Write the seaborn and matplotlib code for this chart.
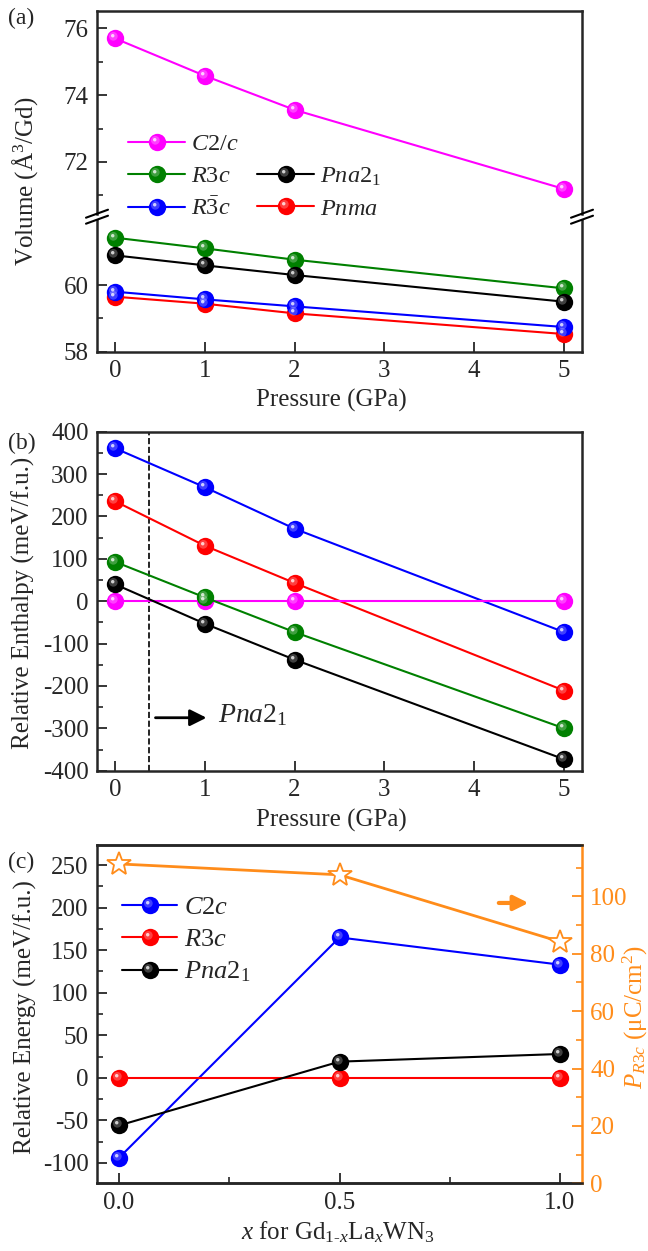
import numpy as np
import matplotlib
matplotlib.use('Agg')
import matplotlib.pyplot as plt
import seaborn as sns
from matplotlib.path import Path
from matplotlib.lines import Line2D
from matplotlib.legend_handler import HandlerTuple
from matplotlib.ticker import MultipleLocator, FixedLocator

# (a) volume per Gd vs pressure
pressure = [0, 1, 2, 5]
vol_c2c = [75.70, 74.58, 73.56, 71.19]
vol_r3c = [61.42, 61.10, 60.76, 59.90]
vol_pna21 = [60.89, 60.59, 60.30, 59.50]
vol_r3barc = [59.80, 59.57, 59.36, 58.74]
vol_pnma = [59.65, 59.44, 59.15, 58.53]

# (b) relative enthalpy vs pressure
h_c2c = [0, 0, 0, 0]
h_r3c = [93, 9, -73, -300]
h_pna21 = [40, -53, -138, -373]
h_r3barc = [361, 269, 171, -73]
h_pnma = [236, 131, 43, -211]

# (c) relative energy and polarization vs La content
x_la = [0.0, 0.5, 1.0]
e_c2c = [-94, 165, 133]
e_r3c = [0, 0, 0]
e_pna21 = [-56, 19, 28]
p_r3c = [111.3, 107.5, 84.2]

MAG, GRN, BLK, BLU, RED = '#ff00ff', '#008000', '#000000', '#0000ff', '#ff0000'
ORG = '#ff8c1a'

sns.set_style('ticks')
plt.rcParams['font.family'] = ['Liberation Serif', 'DejaVu Serif']
plt.rcParams['mathtext.fontset'] = 'custom'
plt.rcParams['mathtext.rm'] = 'Liberation Serif'
plt.rcParams['mathtext.it'] = 'Liberation Serif:italic'
plt.rcParams['mathtext.bf'] = 'Liberation Serif:bold'
plt.rcParams['font.size'] = 18
plt.rcParams['axes.linewidth'] = 1.8
plt.rcParams['axes.unicode_minus'] = False
plt.rcParams['xtick.direction'] = 'in'
plt.rcParams['ytick.direction'] = 'in'

W, H = 648, 1251
fig = plt.figure(figsize=(W / 100, H / 100), dpi=100)


def box(left, top, right, bottom):
    return [left / W, 1 - bottom / H, (right - left) / W, (bottom - top) / H]


# shine on the ball markers: a soft glow and a small bright spot
GLOW = Path.circle(center=(-0.25, 0.25), radius=0.5)
SPOT = Path.circle(center=(-0.32, 0.32), radius=0.2)
GLOW_S = np.abs(GLOW.vertices).max()
SPOT_S = np.abs(SPOT.vertices).max()
MS = 12.5


def balls(ax, x, y, color, z=3):
    sns.lineplot(x=x, y=y, ax=ax, color=color, lw=1.5, marker='o',
                 markersize=MS, markeredgewidth=0, zorder=z, legend=False)
    ax.plot(x, y, ls='none', marker=GLOW, markersize=MS * GLOW_S, color='white',
            alpha=0.25, markeredgewidth=0, zorder=z + 0.1)
    ax.plot(x, y, ls='none', marker=SPOT, markersize=MS * SPOT_S, color='white',
            alpha=0.75, markeredgewidth=0, zorder=z + 0.2)


def ball_handle(color):
    h1 = Line2D([], [], color=color, lw=1.5, marker='o', markersize=MS, markeredgewidth=0)
    h2 = Line2D([], [], ls='none', marker=GLOW, markersize=MS * GLOW_S, color='white',
                alpha=0.25, markeredgewidth=0)
    h3 = Line2D([], [], ls='none', marker=SPOT, markersize=MS * SPOT_S, color='white',
                alpha=0.75, markeredgewidth=0)
    return (h1, h2, h3)


def style(ax):
    ax.tick_params(which='major', length=7, width=1.3, pad=6, labelsize=18)
    ax.tick_params(which='minor', length=4.5, width=1.2)
    ax.tick_params(top=False, right=False, which='both')


# ---------- (a) ----------
ax_top = fig.add_axes(box(97, 11, 582, 213.7))
ax_bot = fig.add_axes(box(97, 219.7, 582, 351.7))

balls(ax_top, pressure, vol_c2c, MAG)
balls(ax_bot, pressure, vol_r3c, GRN)
balls(ax_bot, pressure, vol_pna21, BLK)
balls(ax_bot, pressure, vol_pnma, RED)
balls(ax_bot, pressure, vol_r3barc, BLU)

for ax in (ax_top, ax_bot):
    ax.set_xlim(-0.2, 5.2)
    ax.set_xticks([0, 1, 2, 3, 4, 5])
    ax.set_xlabel('')
    ax.set_ylabel('')
    style(ax)
ax_top.set_ylim(70.45, 76.52)
ax_top.set_yticks([72, 74, 76])
ax_top.yaxis.set_minor_locator(FixedLocator([71, 73, 75]))
ax_top.spines['bottom'].set_visible(False)
ax_top.tick_params(bottom=False, labelbottom=False)
ax_bot.set_ylim(58, 61.96)
ax_bot.set_yticks([58, 60])
ax_bot.yaxis.set_minor_locator(FixedLocator([59]))
ax_bot.spines['top'].set_visible(False)

# axis break marks
for xb in (97, 582):
    for yb in (213.7, 219.7):
        fig.add_artist(Line2D([(xb - 11) / W, (xb + 11) / W], [1 - (yb + 4) / H, 1 - (yb - 4) / H],
                              color='k', lw=1.5, transform=fig.transFigure))

ax_bot.set_xlabel('Pressure (GPa)', fontsize=18, va='center')
ax_bot.xaxis.set_label_coords(331 / W, 1 - 400 / H, transform=fig.transFigure)
ax_top.set_ylabel('Volume (Å$^3$/Gd)', fontsize=18, va='center')
ax_top.yaxis.set_label_coords(25 / W, 1 - 181 / H, transform=fig.transFigure)

handles_a = [ball_handle(MAG), ball_handle(GRN), ball_handle(BLU),
             Line2D([], [], alpha=0), ball_handle(BLK), ball_handle(RED)]
labels_a = ['$C2/c$', '$R3c$', r'$R\bar{3}c$', '', '$Pna2_1$', '$Pnma$']
fig.legend(handles_a, labels_a, loc='upper left', bbox_to_anchor=(128 / W, 1 - 133 / H),
           bbox_transform=fig.transFigure, ncol=2, frameon=False, fontsize=17.5,
           borderpad=0, borderaxespad=0, handlelength=2.35, handletextpad=0.25,
           columnspacing=0.75, labelspacing=0.42,
           handler_map={tuple: HandlerTuple(ndivide=1)})

# ---------- (b) ----------
ax_b = fig.add_axes(box(97, 431.7, 582, 770.7))
balls(ax_b, pressure, h_r3barc, BLU)
balls(ax_b, pressure, h_pnma, RED)
balls(ax_b, pressure, h_c2c, MAG)
balls(ax_b, pressure, h_r3c, GRN)
balls(ax_b, pressure, h_pna21, BLK)
ax_b.axvline(0.38, color='k', ls='--', lw=1.2)
ax_b.annotate('', xy=(1.05, -275), xytext=(0.42, -275),
              arrowprops=dict(arrowstyle='-|>', color='k', lw=2, mutation_scale=25))
ax_b.text(1.15, -268, '$Pna2_1$', fontsize=20, ha='left', va='center')
ax_b.set_xlim(-0.2, 5.2)
ax_b.set_ylim(-400, 400)
ax_b.set_xticks([0, 1, 2, 3, 4, 5])
ax_b.set_yticks(range(-400, 401, 100))
ax_b.yaxis.set_minor_locator(MultipleLocator(50))
style(ax_b)
ax_b.set_xlabel('Pressure (GPa)', fontsize=18, va='center')
ax_b.xaxis.set_label_coords(331 / W, 1 - 820 / H, transform=fig.transFigure)
ax_b.set_ylabel('Relative Enthalpy (meV/f.u.)', fontsize=18, va='center')
ax_b.yaxis.set_label_coords(23 / W, 1 - 603 / H, transform=fig.transFigure)

# ---------- (c) ----------
ax_c = fig.add_axes(box(97, 844.7, 582, 1183.3))
ax_c2 = ax_c.twinx()
balls(ax_c, x_la, e_c2c, BLU)
balls(ax_c, x_la, e_r3c, RED)
balls(ax_c, x_la, e_pna21, BLK)
sns.lineplot(x=x_la, y=p_r3c, ax=ax_c2, color=ORG, lw=2, marker='*', markersize=18,
             markerfacecolor='white', markeredgecolor=ORG, markeredgewidth=1.3, legend=False)
ax_c2.annotate('', xy=(0.935, 97.7), xytext=(0.855, 97.7),
               arrowprops=dict(arrowstyle='-|>', color=ORG, lw=3, mutation_scale=22))

ax_c.set_xlim(-0.05, 1.05)
ax_c.set_ylim(-124, 274)
ax_c.set_xticks([0.0, 0.5, 1.0])
ax_c.set_xticklabels(['0.0', '0.5', '1.0'])
ax_c.xaxis.set_minor_locator(FixedLocator([0.25, 0.75]))
ax_c.set_yticks(range(-100, 251, 50))
ax_c.yaxis.set_minor_locator(MultipleLocator(25))
style(ax_c)
ax_c.spines['right'].set_visible(False)

ax_c2.set_ylim(0, 118)
ax_c2.set_yticks(range(0, 101, 20))
ax_c2.yaxis.set_minor_locator(MultipleLocator(10))
ax_c2.tick_params(which='major', length=7, width=1.3, pad=6, labelsize=18, colors=ORG)
ax_c2.tick_params(which='minor', length=4.5, width=1.2, colors=ORG)
ax_c2.spines['right'].set_color(ORG)
ax_c2.spines['left'].set_visible(False)
ax_c2.set_ylabel('$P_{R3c}$ (μC/cm$^2$)', fontsize=18, color=ORG, va='center')
ax_c2.yaxis.set_label_coords(635 / W, 1 - 1017 / H, transform=fig.transFigure)

ax_c.set_xlabel(r'$x$ for Gd$_{1\text{-}x}$La$_x$WN$_3$', fontsize=18, va='center')
ax_c.xaxis.set_label_coords(338 / W, 1 - 1232 / H, transform=fig.transFigure)
ax_c.set_ylabel('Relative Energy (meV/f.u.)', fontsize=18, va='center')
ax_c.yaxis.set_label_coords(25 / W, 1 - 1017 / H, transform=fig.transFigure)

fig.legend([ball_handle(BLU), ball_handle(RED), ball_handle(BLK)],
           ['$C2c$', '$R3c$', '$Pna2_1$'], loc='upper left',
           bbox_to_anchor=(122 / W, 1 - 896 / H), bbox_transform=fig.transFigure,
           frameon=False, fontsize=19, borderpad=0, borderaxespad=0,
           handlelength=2.1, handletextpad=0.25, labelspacing=0.32,
           handler_map={tuple: HandlerTuple(ndivide=1)})

# panel labels
fig.text(21 / W, 1 - 18 / H, '(a)', fontsize=17, ha='center', va='center')
fig.text(22 / W, 1 - 443 / H, '(b)', fontsize=17, ha='center', va='center')
fig.text(21 / W, 1 - 862 / H, '(c)', fontsize=17, ha='center', va='center')

fig.savefig('out.png', dpi=100)
